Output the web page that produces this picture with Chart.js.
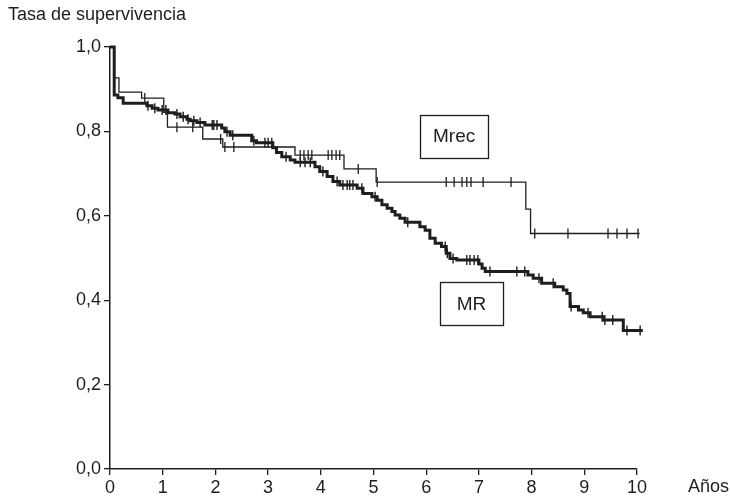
<!DOCTYPE html>
<html>
<head>
<meta charset="utf-8">
<script src="https://cdn.jsdelivr.net/npm/chart.js@4.4.1/dist/chart.umd.min.js"></script>
<style>
  html, body { margin: 0; padding: 0; background: #fff; }
  #wrap { width: 730px; height: 500px; }
</style>
</head>
<body>
<div id="wrap"><canvas id="km"></canvas></div>
<script>
// Kaplan-Meier data (time in years, survival after the event)
const mrecTimes = [0.08, 0.17, 0.60, 1.02, 1.09, 1.76, 2.14, 3.51, 4.44, 5.05, 7.89, 7.98];
const mrecSurv  = [0.927, 0.893, 0.879, 0.845, 0.810, 0.782, 0.763, 0.744, 0.711, 0.680, 0.616, 0.558];
const mrecEnd = 10.05;
const mrecCensor = [0.66, 1.27, 1.57, 2.10, 2.18, 2.35, 3.61, 3.68, 3.76, 3.83, 4.14, 4.21, 4.29, 4.36,
  4.71, 5.07, 6.38, 6.53, 6.68, 6.77, 6.85, 7.08, 7.61, 8.06, 8.69, 9.45, 9.62, 9.81, 10.02];

const mrTimes = [0.08, 0.15, 0.25, 0.70, 0.80, 0.91, 1.10, 1.23, 1.33, 1.46, 1.52, 1.65, 1.80, 2.12,
  2.18, 2.28, 2.69, 2.78, 3.09, 3.16, 3.26, 3.42, 3.51, 3.89, 3.98, 4.12, 4.23, 4.36, 4.69, 4.80,
  4.97, 5.07, 5.16, 5.26, 5.35, 5.41, 5.50, 5.60, 5.88, 5.98, 6.07, 6.17, 6.29, 6.38, 6.45, 6.58,
  7.00, 7.06, 7.12, 7.93, 8.03, 8.19, 8.44, 8.60, 8.67, 8.73, 8.89, 8.98, 9.11, 9.36, 9.74];
const mrSurv = [0.886, 0.880, 0.867, 0.861, 0.855, 0.851, 0.844, 0.841, 0.835, 0.829, 0.825, 0.821,
  0.815, 0.808, 0.799, 0.791, 0.778, 0.773, 0.761, 0.750, 0.740, 0.732, 0.727, 0.716, 0.705, 0.693,
  0.681, 0.673, 0.665, 0.653, 0.645, 0.637, 0.626, 0.618, 0.610, 0.602, 0.594, 0.585, 0.574, 0.566,
  0.547, 0.535, 0.527, 0.511, 0.499, 0.495, 0.486, 0.476, 0.468, 0.460, 0.452, 0.440, 0.432, 0.424,
  0.416, 0.385, 0.377, 0.370, 0.361, 0.353, 0.328];
const mrEnd = 10.11;
const mrCensor = [0.72, 0.85, 0.99, 1.06, 1.27, 1.39, 1.48, 1.59, 1.71, 1.94, 1.97, 2.03, 2.22, 2.33,
  2.73, 2.94, 3.00, 3.07, 3.34, 3.61, 3.70, 3.80, 4.04, 4.31, 4.42, 4.50, 4.55, 4.61, 4.78, 5.03,
  5.65, 6.36, 6.40, 6.51, 6.77, 6.83, 6.91, 6.98, 7.21, 7.72, 7.87, 8.14, 8.41, 8.75, 9.07, 9.34,
  9.39, 9.54, 9.81, 10.06];

const xTicks = [0, 1, 2, 3, 4, 5, 6, 7, 8, 9, 10];
const yTicks = [0, 0.2, 0.4, 0.6, 0.8, 1.0];

const labelNames = ['Mrec', 'MR'];
const labelX = [6.53, 6.86];
const labelY = [0.789, 0.391];

const yTitle = 'Tasa de supervivencia';
const xTitle = 'Años';

const ink = '#1e1e1e';
const FONT = '"Liberation Sans", Arial, sans-serif';

function stepPoints(times, surv, end) {
  const pts = [{ x: 0, y: 1 }];
  times.forEach((t, i) => pts.push({ x: t, y: surv[i] }));
  pts.push({ x: end, y: surv[surv.length - 1] });
  return pts;
}

// survival value of the step curve at time t
function survAt(times, surv, t) {
  let s = 1;
  for (let i = 0; i < times.length; i++) {
    if (times[i] <= t) s = surv[i];
  }
  return s;
}

function censorPoints(censor, times, surv) {
  return censor.map(t => ({ x: t, y: survAt(times, surv, t) }));
}

const textPlugin = {
  id: 'texts',
  afterDraw(chart) {
    const ctx = chart.ctx;
    const xs = chart.scales.x, ys = chart.scales.y;
    ctx.save();
    ctx.fillStyle = ink;
    ctx.font = '18px ' + FONT;
    ctx.textBaseline = 'middle';
    ctx.textAlign = 'left';
    ctx.fillText(yTitle, 8, 15);
    ctx.fillText(xTitle, 688, 487);

    const boxW = [68, 63];
    const boxH = 43;
    ctx.strokeStyle = ink;
    ctx.lineWidth = 1.3;
    ctx.font = '19px ' + FONT;
    ctx.textAlign = 'center';
    labelNames.forEach((name, i) => {
      const cx = xs.getPixelForValue(labelX[i]);
      const cy = ys.getPixelForValue(labelY[i]);
      ctx.strokeRect(Math.round(cx - boxW[i] / 2) + 0.5, Math.round(cy - boxH / 2) + 0.5, boxW[i], boxH);
      ctx.fillText(name, cx, cy + 1);
    });
    ctx.restore();
  }
};

new Chart(document.getElementById('km'), {
  type: 'line',
  data: {
    datasets: [
      {
        label: 'Mrec',
        data: stepPoints(mrecTimes, mrecSurv, mrecEnd),
        stepped: 'before',
        borderColor: ink,
        borderWidth: 1.3,
        pointRadius: 0,
        fill: false,
        clip: false
      },
      {
        label: 'MR',
        data: stepPoints(mrTimes, mrSurv, mrEnd),
        stepped: 'before',
        borderColor: ink,
        borderWidth: 3,
        pointRadius: 0,
        fill: false,
        clip: false
      },
      {
        label: 'Mrec censored',
        type: 'scatter',
        data: censorPoints(mrecCensor, mrecTimes, mrecSurv),
        pointStyle: 'line',
        rotation: 90,
        radius: 5,
        borderColor: ink,
        borderWidth: 1.3,
        clip: false
      },
      {
        label: 'MR censored',
        type: 'scatter',
        data: censorPoints(mrCensor, mrTimes, mrSurv),
        pointStyle: 'line',
        rotation: 90,
        radius: 5,
        borderColor: ink,
        borderWidth: 1.4,
        clip: false
      }
    ]
  },
  options: {
    responsive: true,
    maintainAspectRatio: false,
    animation: false,
    layout: { padding: { top: 47, right: 93, left: 0, bottom: 0 } },
    plugins: {
      legend: { display: false },
      tooltip: { enabled: false }
    },
    scales: {
      x: {
        type: 'linear',
        min: 0,
        max: 10,
        afterBuildTicks: s => { s.ticks = xTicks.map(v => ({ value: v })); },
        afterFit: s => { s.height = 31; },
        grid: { drawOnChartArea: false, drawTicks: true, tickLength: 6, color: ink, lineWidth: 1.3 },
        border: { color: ink, width: 1.5 },
        ticks: { color: ink, font: { family: FONT, size: 18 }, padding: 2, maxRotation: 0 }
      },
      y: {
        type: 'linear',
        min: 0,
        max: 1,
        afterBuildTicks: s => { s.ticks = yTicks.map(v => ({ value: v })); },
        afterFit: s => { s.width = 110; },
        grid: { drawOnChartArea: false, drawTicks: true, tickLength: 6, color: ink, lineWidth: 1.3 },
        border: { color: ink, width: 1.5 },
        ticks: {
          color: ink,
          font: { family: FONT, size: 18 },
          padding: 3,
          callback: v => v.toFixed(1).replace('.', ',')
        }
      }
    }
  },
  plugins: [textPlugin]
});
</script>
</body>
</html>
